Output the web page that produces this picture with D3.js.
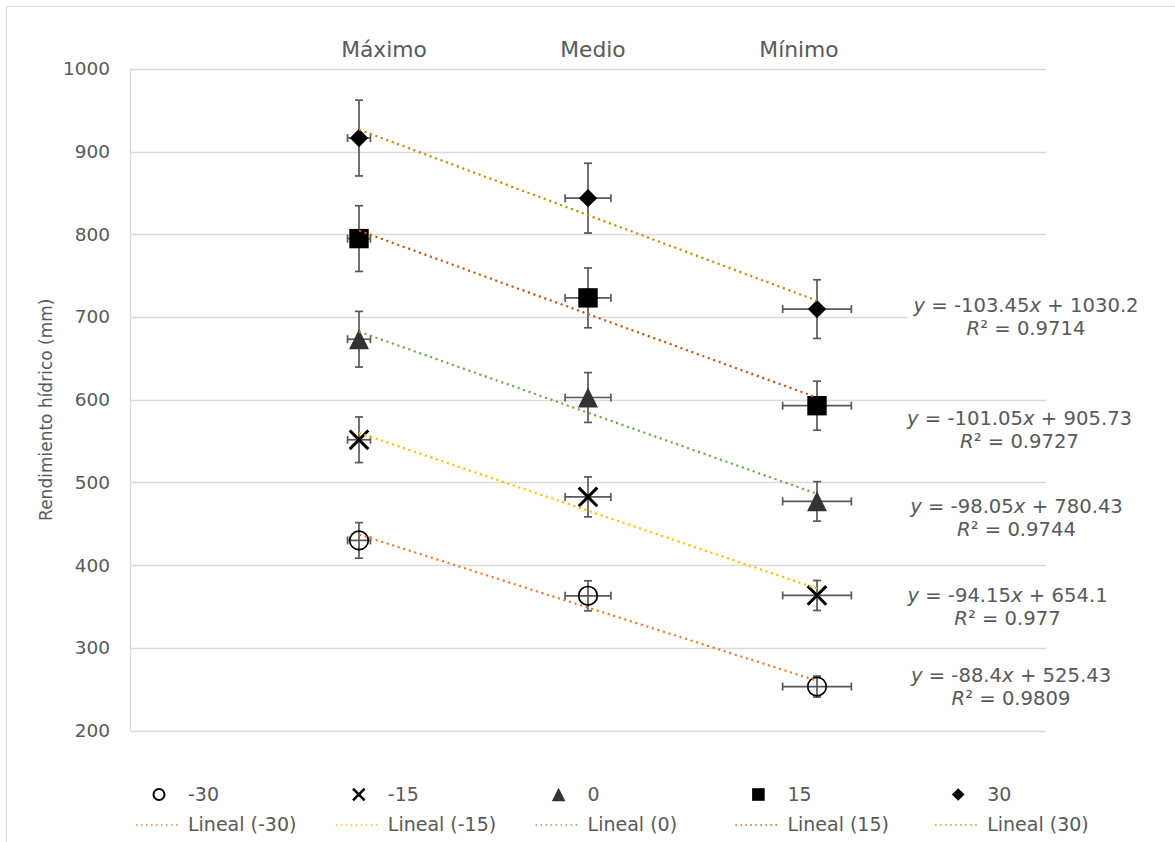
<!DOCTYPE html>
<html>
<head>
<meta charset="utf-8">
<script src="https://cdn.jsdelivr.net/npm/d3@7"></script>
<style>
  html, body { margin: 0; padding: 0; background: #fff; }
  svg { display: block; font-family: "DejaVu Sans", Verdana, sans-serif; }
</style>
</head>
<body>
<svg id="chart" width="1175" height="842"></svg>
<script>
// ---------------- DATA ----------------
const categories = ["Máximo", "Medio", "Mínimo"];
const xValues = [1, 2, 3];
const seriesNames = ["-30", "-15", "0", "15", "30"];
const valuesM30 = [429.9, 362.9, 253.1];
const valuesM15 = [551.6, 482.5, 363.3];
const values0   = [673.2, 602.7, 477.1];
const values15  = [794.9, 723.2, 592.8];
const values30  = [916.5, 843.8, 709.6];
const errorPercentY = 5;   // vertical error bars, % of value
const errorPercentX = 5;   // horizontal error bars, % of value
const trendSlopes = [-88.4, -94.15, -98.05, -101.05, -103.45];
const trendIntercepts = [525.43, 654.1, 780.43, 905.73, 1030.2];
const trendR2 = ["0.9809", "0.977", "0.9744", "0.9727", "0.9714"];
const yTicks = [200, 300, 400, 500, 600, 700, 800, 900, 1000];
const yAxisTitle = "Rendimiento hídrico (mm)";

// ---------------- STYLE / LAYOUT ----------------
const seriesValues = [valuesM30, valuesM15, values0, values15, values30];
const markerTypes = ["circle", "x", "triangle", "square", "diamond"];
const trendColors = ["#ED7D31", "#FFC000", "#70AD47", "#C55A11", "#BF9000"];
const textColor = "#595959";
const gridColor = "#d9d9d9";

const svg = d3.select("#chart");
const W = 1175, H = 842;

// outer chart border
svg.append("rect").attr("x", 6.5).attr("y", 6.5).attr("width", W).attr("height", H)
  .attr("fill", "#fff").attr("stroke", gridColor).attr("stroke-width", 1);

const x = d3.scaleLinear().domain([0, 4]).range([130, 1046]);
const y = d3.scaleLinear().domain([200, 1000]).range([730.5, 69]);

// gridlines
const gGrid = svg.append("g");
gGrid.selectAll("line").data(yTicks).join("line")
  .attr("x1", x(0)).attr("x2", x(4))
  .attr("y1", d => Math.round(y(d)) + 0.5).attr("y2", d => Math.round(y(d)) + 0.5)
  .attr("stroke", gridColor).attr("stroke-width", 1.3);
// left vertical line
svg.append("line").attr("x1", Math.round(x(0)) + 0.5).attr("x2", Math.round(x(0)) + 0.5)
  .attr("y1", y(1000)).attr("y2", y(200)).attr("stroke", gridColor).attr("stroke-width", 1.3);

// y axis (labels only)
const yAxis = d3.axisLeft(y).tickValues(yTicks).tickSize(0).tickPadding(0).tickFormat(d3.format("d"));
const gY = svg.append("g").attr("transform", `translate(${x(0) - 20},0)`).call(yAxis);
gY.select(".domain").remove();
gY.selectAll("text").attr("fill", textColor).attr("font-size", "18.5px")
  .attr("font-family", '"DejaVu Sans", Verdana, sans-serif');

// y axis title
svg.append("text")
  .attr("transform", `translate(52, ${(y(200) + y(1000)) / 2 + 10}) rotate(-90)`)
  .attr("text-anchor", "middle").attr("fill", textColor).attr("font-size", "17px")
  .text(yAxisTitle);

// category labels at top
const catDx = [25, 5, -18];
svg.selectAll("text.cat").data(categories).join("text").attr("class", "cat")
  .attr("x", (d, i) => x(xValues[i]) + catDx[i]).attr("y", 57)
  .attr("text-anchor", "middle").attr("fill", textColor).attr("font-size", "21.8px")
  .text(d => d);

// marker path generator
function markerPath(type, s) {
  const p = d3.path();
  if (type === "circle") { p.arc(0, 0, s, 0, 2 * Math.PI); }
  else if (type === "square") { p.rect(-s, -s, 2 * s, 2 * s); }
  else if (type === "diamond") { p.moveTo(0, -s); p.lineTo(s, 0); p.lineTo(0, s); p.lineTo(-s, 0); p.closePath(); }
  else if (type === "triangle") { p.moveTo(0, -s); p.lineTo(s, s); p.lineTo(-s, s); p.closePath(); }
  else if (type === "x") { p.moveTo(-s, -s); p.lineTo(s, s); p.moveTo(s, -s); p.lineTo(-s, s); }
  return p.toString();
}
function styleMarker(sel, type, legend) {
  if (type === "circle") sel.attr("fill", "none").attr("stroke", "#000").attr("stroke-width", legend ? 2 : 1.7);
  else if (type === "x") sel.attr("fill", "none").attr("stroke", "#000").attr("stroke-width", legend ? 2.6 : 3);
  else if (type === "triangle") sel.attr("fill", "#333").attr("stroke", "none");
  else sel.attr("fill", "#000").attr("stroke", "none");
}
const markerSize = { circle: 9.3, x: 9.3, triangle: 10, square: 9.7, diamond: 9.2 };
const legendSize = { circle: 5.5, x: 5.8, triangle: 6.8, square: 6.3, diamond: 6.3 };

// error bars
const errColor = "#595959";
const gErr = svg.append("g").attr("stroke", errColor).attr("stroke-width", 1.7).attr("fill", "none");
seriesValues.forEach((vals) => {
  vals.forEach((v, i) => {
    const xv = xValues[i];
    const dy = v * errorPercentY / 100;
    const dx = xv * errorPercentX / 100;
    const cx = x(xv), cy = y(v);
    const cap = 4;
    // vertical
    gErr.append("line").attr("x1", cx).attr("x2", cx).attr("y1", y(v + dy)).attr("y2", y(v - dy));
    gErr.append("line").attr("x1", cx - cap).attr("x2", cx + cap).attr("y1", y(v + dy)).attr("y2", y(v + dy));
    gErr.append("line").attr("x1", cx - cap).attr("x2", cx + cap).attr("y1", y(v - dy)).attr("y2", y(v - dy));
    // horizontal
    gErr.append("line").attr("x1", x(xv - dx)).attr("x2", x(xv + dx)).attr("y1", cy).attr("y2", cy);
    gErr.append("line").attr("x1", x(xv - dx)).attr("x2", x(xv - dx)).attr("y1", cy - cap).attr("y2", cy + cap);
    gErr.append("line").attr("x1", x(xv + dx)).attr("x2", x(xv + dx)).attr("y1", cy - cap).attr("y2", cy + cap);
  });
});

// markers
seriesValues.forEach((vals, si) => {
  const type = markerTypes[si];
  const sel = svg.append("g").selectAll("path").data(vals).join("path")
    .attr("transform", (d, i) => `translate(${x(xValues[i])},${y(d)})`)
    .attr("d", markerPath(type, markerSize[type]));
  styleMarker(sel, type, false);
});

// trendlines
seriesValues.forEach((vals, si) => {
  const xs = [d3.min(xValues), d3.max(xValues)];
  svg.append("line")
    .attr("x1", x(xs[0])).attr("y1", y(trendSlopes[si] * xs[0] + trendIntercepts[si]))
    .attr("x2", x(xs[1])).attr("y2", y(trendSlopes[si] * xs[1] + trendIntercepts[si]))
    .attr("stroke", trendColors[si]).attr("stroke-width", 2.2)
    .attr("stroke-dasharray", "2.2,3.6");
});

// trendline equation labels
const eqPos = [[1011, 682], [1007.5, 602], [1016.5, 513], [1019.5, 425], [1026, 312]];
const fmtNum = v => String(v);
seriesValues.forEach((vals, si) => {
  const g = svg.append("g");
  const [ex, ey] = eqPos[si];
  const t = g.append("text").attr("text-anchor", "middle").attr("fill", textColor).attr("font-size", "19.6px");
  const l1 = t.append("tspan").attr("x", ex).attr("y", ey);
  l1.append("tspan").attr("font-style", "italic").text("y");
  const b = trendIntercepts[si];
  l1.append("tspan").text(` = ${fmtNum(trendSlopes[si])}`);
  l1.append("tspan").attr("font-style", "italic").text("x");
  l1.append("tspan").text(` ${b < 0 ? "-" : "+"} ${fmtNum(Math.abs(b))}`);
  const l2 = t.append("tspan").attr("x", ex).attr("y", ey + 23);
  l2.append("tspan").attr("font-style", "italic").text("R");
  l2.append("tspan").text(`² = ${trendR2[si]}`);
  const bb = t.node().getBBox();
  g.insert("rect", "text").attr("x", bb.x - 5).attr("y", bb.y - 2)
    .attr("width", bb.width + 10).attr("height", bb.height + 4).attr("fill", "#fff");
});

// legend
const legX0 = 188, legDX = 199.8;
const gLeg = svg.append("g");
seriesNames.forEach((name, si) => {
  const tx = legX0 + si * legDX;
  const type = markerTypes[si];
  const m = gLeg.append("path").attr("transform", `translate(${tx - 29},794.5)`)
    .attr("d", markerPath(type, legendSize[type]));
  styleMarker(m, type, true);
  gLeg.append("text").attr("x", tx).attr("y", 801).attr("fill", textColor)
    .attr("font-size", "19px").text(name);
  gLeg.append("line").attr("x1", tx - 52).attr("x2", tx - 7).attr("y1", 825).attr("y2", 825)
    .attr("stroke", trendColors[si]).attr("stroke-width", 1.5).attr("stroke-dasharray", "1.5,3.5");
  gLeg.append("text").attr("x", tx).attr("y", 831).attr("fill", textColor)
    .attr("font-size", "19px").text(`Lineal (${name})`);
});
</script>
</body>
</html>
